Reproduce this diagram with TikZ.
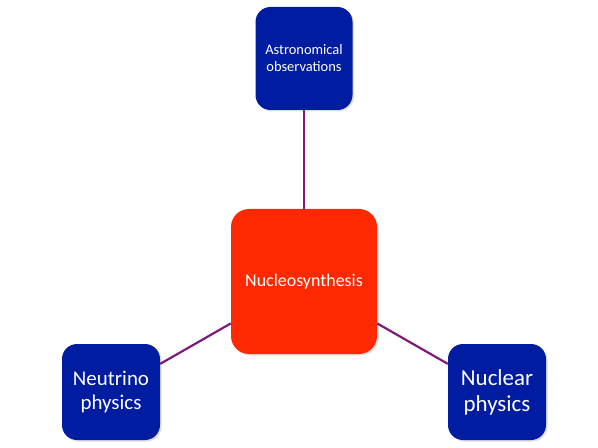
\documentclass[tikz,border=0pt]{standalone}
\usepackage{fontspec}
\setmainfont{Carlito}
\usetikzlibrary{positioning,shadows}

\definecolor{boxblue}{RGB}{0,28,160}
\definecolor{boxred}{RGB}{255,40,0}
\definecolor{linkpurple}{RGB}{125,25,120}

\begin{document}
\begin{tikzpicture}[x=1bp, y=-1bp,
    box/.style={fill=boxblue, text=white, align=center, inner sep=0pt,
      rounded corners=15bp, drop shadow={opacity=0.25, shadow xshift=1.5bp, shadow yshift=-1.5bp}},
    link/.style={draw=linkpurple, line width=2.2bp}]
      \useasboundingbox (0,0) rectangle (598,448);
      \node (R0) at (304,281.5) [box, fill=boxred, minimum width=146bp, minimum height=145bp, rounded corners=18bp,
        font=\fontsize{18}{21}\selectfont] {Nucleosynthesis};
      \node (R1) at (304,58.5) [box, minimum width=97bp, minimum height=103bp,
        font=\fontsize{14.5}{17}\selectfont] {Astronomical\\observations};
      \node (R2) at (111,392) [box, minimum width=98bp, minimum height=96bp,
        font=\fontsize{21}{24}\selectfont] {Neutrino\\physics};
      \node (R3) at (497,392) [box, minimum width=98bp, minimum height=96bp,
        font=\fontsize{23}{26}\selectfont] {Nuclear\\physics};

      \path[link]
        (R0) edge (R1)
        (R0) edge (R2)
        (R0) edge (R3);
    \end{tikzpicture}
\end{document}
